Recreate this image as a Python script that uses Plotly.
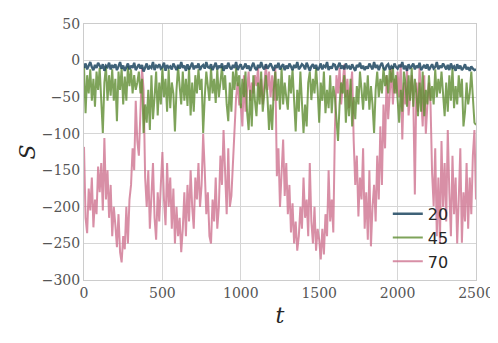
import plotly.graph_objects as go

# time axis: one reading every 10 steps, t = 0 .. 2500
t = list(range(0, 2501, 10))

# values (one row = 100 steps)
s20 = [
    -10, -4, -12, -7, -2, -9, -13, -6, -10, -3,
    -8, -11, -5, -14, -7, -9, -3, -12, -6, -10,
    -5, -13, -8, -2, -11, -7, -14, -9, -4, -12,
    -7, -10, -3, -13, -8, -5, -11, -6, -15, -9,
    -4, -12, -8, -10, -2, -13, -7, -9, -5, -11,
    -9, -3, -14, -6, -10, -8, -12, -4, -9, -13,
    -6, -11, -2, -10, -7, -14, -5, -12, -8, -3,
    -12, -7, -10, -4, -13, -8, -6, -11, -2, -9,
    -10, -5, -13, -8, -3, -12, -7, -10, -4, -14,
    -7, -11, -3, -9, -12, -6, -10, -2, -13, -8,
    -5, -12, -9, -4, -11, -7, -14, -8, -3, -10,
    -13, -6, -10, -2, -9, -12, -5, -11, -8, -4,
    -9, -14, -6, -10, -3, -12, -8, -5, -13, -7,
    -11, -4, -8, -13, -6, -10, -2, -12, -9, -5,
    -7, -12, -3, -10, -14, -8, -5, -11, -6, -13,
    -10, -4, -12, -7, -9, -2, -13, -8, -11, -5,
    -6, -13, -9, -3, -11, -7, -12, -4, -10, -8,
    -12, -5, -10, -14, -6, -9, -3, -11, -7, -13,
    -8, -11, -4, -9, -12, -2, -10, -6, -13, -7,
    -3, -10, -13, -7, -5, -12, -8, -11, -4, -9,
    -11, -6, -9, -2, -12, -7, -14, -5, -10, -8,
    -4, -12, -7, -10, -3, -13, -9, -6, -11, -5,
    -13, -8, -5, -11, -9, -2, -12, -7, -10, -4,
    -9, -12, -6, -13, -4, -10, -8, -14, -5, -11,
    -7, -13, -10, -5, -12, -9, -14, -8, -11, -13,
    -12,
]

s45 = [
    -8, -72, -20, -45, -12, -55, -25, -63, -15, -40,
    -10, -60, -99, -30, -8, -55, -20, -48, -12, -55,
    -25, -83, -15, -40, -10, -60, -22, -55, -8, -35,
    -12, -45, -20, -40, -30, -15, -45, -25, -99, -60,
    -85, -40, -95, -20, -80, -50, -15, -75, -30, -60,
    -10, -50, -25, -70, -12, -65, -30, -45, -97, -40,
    -8, -35, -60, -15, -55, -25, -62, -10, -75, -30,
    -70, -20, -45, -12, -40, -25, -99, -50, -15, -35,
    -55, -10, -45, -25, -58, -12, -50, -30, -8, -40,
    -20, -60, -83, -30, -70, -15, -40, -10, -35, -20,
    -65, -25, -50, -15, -70, -95, -40, -90, -20, -55,
    -76, -30, -60, -15, -70, -45, -20, -50, -95, -60,
    -95, -40, -15, -55, -25, -67, -10, -60, -30, -50,
    -67, -20, -45, -12, -55, -97, -40, -70, -15, -50,
    -99, -60, -90, -30, -15, -54, -25, -45, -10, -40,
    -85, -30, -55, -15, -72, -40, -65, -20, -72, -35,
    -50, -80, -110, -60, -30, -45, -20, -85, -40, -76,
    -25, -90, -50, -80, -35, -60, -15, -40, -67, -30,
    -55, -20, -67, -35, -60, -99, -40, -15, -50, -25,
    -45, -10, -35, -20, -45, -12, -30, -8, -45, -20,
    -60, -85, -40, -70, -15, -30, -63, -20, -55, -10,
    -63, -25, -45, -76, -30, -70, -15, -76, -40, -60,
    -20, -55, -35, -60, -12, -50, -25, -45, -15, -40,
    -76, -30, -70, -20, -55, -10, -65, -35, -60, -20,
    -50, -25, -90, -70, -30, -60, -45, -15, -55, -85,
    -88,
]

s70 = [
    -118, -215, -236, -175, -205, -160, -228, -190, -210, -145,
    -180, -140, -205, -106, -190, -150, -215, -170, -240, -200,
    -225, -255, -210, -262, -276, -240, -258, -200, -250, -190,
    -170, -120, -150, -55, -110, -130, -70, -10, -40, -160,
    -200, -150, -230, -175, -140, -215, -245, -180, -220, -170,
    -125, -190, -225, -140, -200, -160, -230, -175, -250, -200,
    -240, -215, -262, -230, -180, -240, -170, -220, -150, -200,
    -230, -160, -190, -140, -200, -170, -100, -150, -210, -180,
    -240, -250, -190, -220, -160, -230, -200, -130, -170, -95,
    -150, -210, -120, -200, -185, -140, -90, -50, -30, -60,
    -60, -90, -20, -70, -40, -15, -55, -30, -45, -20,
    -35, -10, -50, -25, -60, -30, -5, -40, -15, -50,
    -20, -55, -10, -158, -120, -200, -150, -108, -185, -140,
    -210, -170, -235, -195, -250, -220, -260, -240, -200, -230,
    -160, -215, -190, -240, -140, -220, -250, -200, -260, -230,
    -245, -272, -230, -265, -210, -240, -150, -220, -190, -235,
    -95, -20, -45, -10, -60, -30, -5, -50, -25, -65,
    -40, -15, -110, -170, -130, -213, -160, -190, -120, -230,
    -180, -245, -150, -254, -200, -170, -220, -130, -190, -90,
    -170, -60, -120, -20, -80, -40, -10, -60, -25, -45,
    -15, -50, -5, -108, -30, -60, -10, -75, -40, -20,
    -50, -183, -30, -70, -10, -45, -90, -20, -100, -60,
    -30, -60, -154, -199, -120, -240, -160, -250, -110, -200,
    -140, -220, -95, -180, -240, -130, -210, -160, -250, -190,
    -120, -249, -180, -220, -140, -230, -160, -210, -130, -95,
    -190,
]

series = [
    ("20", s20, "rgba(29, 70, 96, 0.85)", 2.4),
    ("45", s45, "rgba(94, 140, 49, 0.8)", 2),
    ("70", s70, "rgba(206, 115, 144, 0.8)", 2),
]

y_ticks = [50, 0, -50, -100, -150, -200, -250, -300]
x_ticks = [0, 500, 1000, 1500, 2000, 2500]

fig = go.Figure()
# draw pink first so the flatter series sit on top of it
for name, ys, color, w in reversed(series):
    fig.add_trace(go.Scatter(
        x=t, y=ys, name=name, mode="lines",
        line=dict(color=color, width=w),
    ))

serif = "DejaVu Serif"
tick_font = dict(family=serif, size=14, color="#555555")
axis_style = dict(
    showgrid=True, gridcolor="#d6d6d6", gridwidth=1,
    showline=True, linecolor="#cccccc", linewidth=1, mirror=True,
    zeroline=False, ticks="", tickfont=tick_font, automargin=False,
)

fig.update_xaxes(
    range=[0, 2500], tickvals=x_ticks, ticktext=[str(v) for v in x_ticks],
    title=dict(text="<i>t</i>", font=dict(family=serif, size=22, color="#262626"), standoff=7),
    **axis_style,
)
fig.update_yaxes(
    range=[-300, 50], tickvals=y_ticks,
    ticktext=[str(v).replace("-", "\u2212") for v in y_ticks],
    title=dict(text="<i>S</i>", font=dict(family=serif, size=22, color="#262626"), standoff=0),
    **axis_style,
)

# page body has an 8px margin, so the figure is a bit smaller than the window
fig.update_layout(
    width=490, height=335,
    margin=dict(l=76, r=22, t=16, b=63),
    plot_bgcolor="white", paper_bgcolor="white",
    legend=dict(
        x=0.775, y=0.325, xanchor="left", yanchor="top",
        bgcolor="rgba(0,0,0,0)", traceorder="reversed",
        font=dict(family="DejaVu Sans", size=16, color="#262626"),
        tracegroupgap=0, itemwidth=30,
    ),
)

fig.write_html("out.html")
